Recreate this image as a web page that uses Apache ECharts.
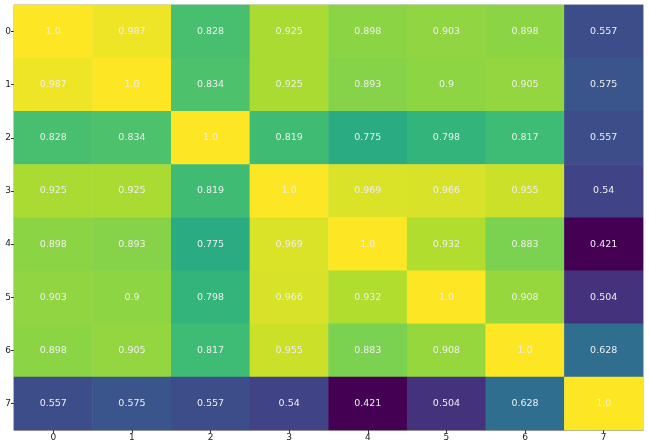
<!DOCTYPE html>
<html lang="en">
<head>
  <meta charset="UTF-8">
  <title>heatmap</title>
  <style>
    * { margin: 0; padding: 0; }
    #main { width: 649px; height: 446px; background: #fff; }
  </style>
</head>
<body>
  <div id="main"></div>
  <script src="https://cdn.jsdelivr.net/npm/echarts@6/dist/echarts.min.js"></script>
  <script>
    const xLabels = ['0', '1', '2', '3', '4', '5', '6', '7']
    const yLabels = ['0', '1', '2', '3', '4', '5', '6', '7']
    // correlation matrix, row by row
    const row0 = ['1.0', '0.987', '0.828', '0.925', '0.898', '0.903', '0.898', '0.557']
    const row1 = ['0.987', '1.0', '0.834', '0.925', '0.893', '0.9', '0.905', '0.575']
    const row2 = ['0.828', '0.834', '1.0', '0.819', '0.775', '0.798', '0.817', '0.557']
    const row3 = ['0.925', '0.925', '0.819', '1.0', '0.969', '0.966', '0.955', '0.54']
    const row4 = ['0.898', '0.893', '0.775', '0.969', '1.0', '0.932', '0.883', '0.421']
    const row5 = ['0.903', '0.9', '0.798', '0.966', '0.932', '1.0', '0.908', '0.504']
    const row6 = ['0.898', '0.905', '0.817', '0.955', '0.883', '0.908', '1.0', '0.628']
    const row7 = ['0.557', '0.575', '0.557', '0.54', '0.421', '0.504', '0.628', '1.0']
    const rows = [row0, row1, row2, row3, row4, row5, row6, row7]

    // viridis stops
    const viridis = ['#440154', '#482878', '#3e4989', '#31688e', '#26828e',
      '#1f9e89', '#35b779', '#6ece58', '#b5de2b', '#fde725']

    const data = []
    rows.forEach((r, i) => {
      r.forEach((v, j) => {
        data.push({ value: [j, i, parseFloat(v)], label: { formatter: v } })
      })
    })

    const chart = echarts.init(document.getElementById('main'))
    chart.setOption({
      animation: false,
      grid: { left: 14, right: 6, top: 5, bottom: 16, show: true, borderColor: '#aaa', borderWidth: 1 },
      xAxis: {
        type: 'category',
        data: xLabels,
        position: 'bottom',
        axisLine: { show: true, lineStyle: { color: '#aaa', width: 1 } },
        axisTick: { show: true, alignWithLabel: true, length: 3, lineStyle: { color: '#333' } },
        axisLabel: { color: '#222', fontSize: 9, margin: 3, fontFamily: 'DejaVu Sans' },
        splitLine: { show: false }
      },
      yAxis: {
        type: 'category',
        data: yLabels,
        inverse: true,
        axisLine: { show: true, lineStyle: { color: '#aaa', width: 1 } },
        axisTick: { show: true, alignWithLabel: true, length: 3, lineStyle: { color: '#333' } },
        axisLabel: { color: '#222', fontSize: 9, margin: 3, fontFamily: 'DejaVu Sans' },
        splitLine: { show: false }
      },
      visualMap: {
        show: false,
        min: 0.421,
        max: 1.0,
        dimension: 2,
        inRange: { color: viridis }
      },
      series: [{
        type: 'heatmap',
        data: data,
        label: {
          show: true,
          color: '#eeeeee',
          fontSize: 9.5,
          fontFamily: 'DejaVu Sans'
        },
        itemStyle: { borderWidth: 0 }
      }]
    })
  </script>
</body>
</html>
